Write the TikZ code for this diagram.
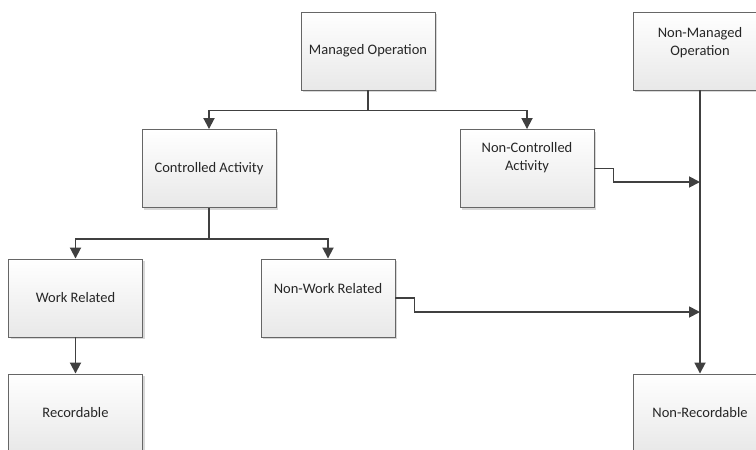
\documentclass[tikz,border=0pt]{standalone}
\usepackage{fontspec}
\setmainfont{Carlito}
\usetikzlibrary{arrows.meta,positioning,shadows}

\tikzset{
  box/.style={draw=black!60, line width=0.9pt, top color=white, bottom color=black!9,
    minimum width=134pt, minimum height=78pt, inner sep=0pt, align=center,
    font=\fontsize{14.5}{17.5}\selectfont, text=black!85,
    drop shadow={shadow xshift=2pt, shadow yshift=-2pt, fill=black!30, opacity=0.5}},
  uptext/.style args={#1/#2}{label={[font=\fontsize{14.5}{17.5}\selectfont, text=black!85,
    align=center, yshift=#2]center:#1}},
  wire/.style={draw=black!75, line width=1.8pt},
  link/.style={wire, -{Triangle[length=11pt,width=11pt]}}
}

\begin{document}
\begin{tikzpicture}[x=1pt,y=-1pt]
  \useasboundingbox (0,0) rectangle (756,450);
  \clip (0,0) rectangle (756,450);

  % operations
  \node[box] (mo) at (368,51) {Managed Operation};
  \node[box, uptext={Non-Managed\\Operation/8.5pt}] (nmo) at (700,51) {};

  % activities
  \node[box] (ca) at (209,168.5) {Controlled Activity};
  \node[box, uptext={Non-Controlled\\Activity/11pt}] (nca) at (527,168.5) {};

  % work relation
  \node[box] (wr) at (75.5,298) {Work Related};
  \node[box, uptext={Non-Work Related/9pt}] (nwr) at (328,298) {};

  % outcome
  \node[box] (rec) at (75.5,413) {Recordable};
  \node[box] (nrec) at (700,413) {Non-Recordable};

  % tree connectors
  \draw[wire] (mo.south) -- ++(0,20) coordinate (mosplit);
  \draw[link] (mosplit) -| (ca.north);
  \draw[link] (mosplit) -| (nca.north);

  \draw[wire] (ca.south) -- ++(0,31) coordinate (casplit);
  \draw[link] (casplit) -| (wr.north);
  \draw[link] (casplit) -| (nwr.north);

  \draw[link] (wr) -- (rec);
  \draw[link] (nmo) -- (nrec);

  % side joins
  \coordinate (j1) at (nmo.south |- 0,182);
  \coordinate (j2) at (nmo.south |- 0,312);
  \draw[link] (nca.east) -- ++(19,0) |- (j1);
  \draw[link] (nwr.east) -- ++(19,0) |- (j2);
\end{tikzpicture}
\end{document}
